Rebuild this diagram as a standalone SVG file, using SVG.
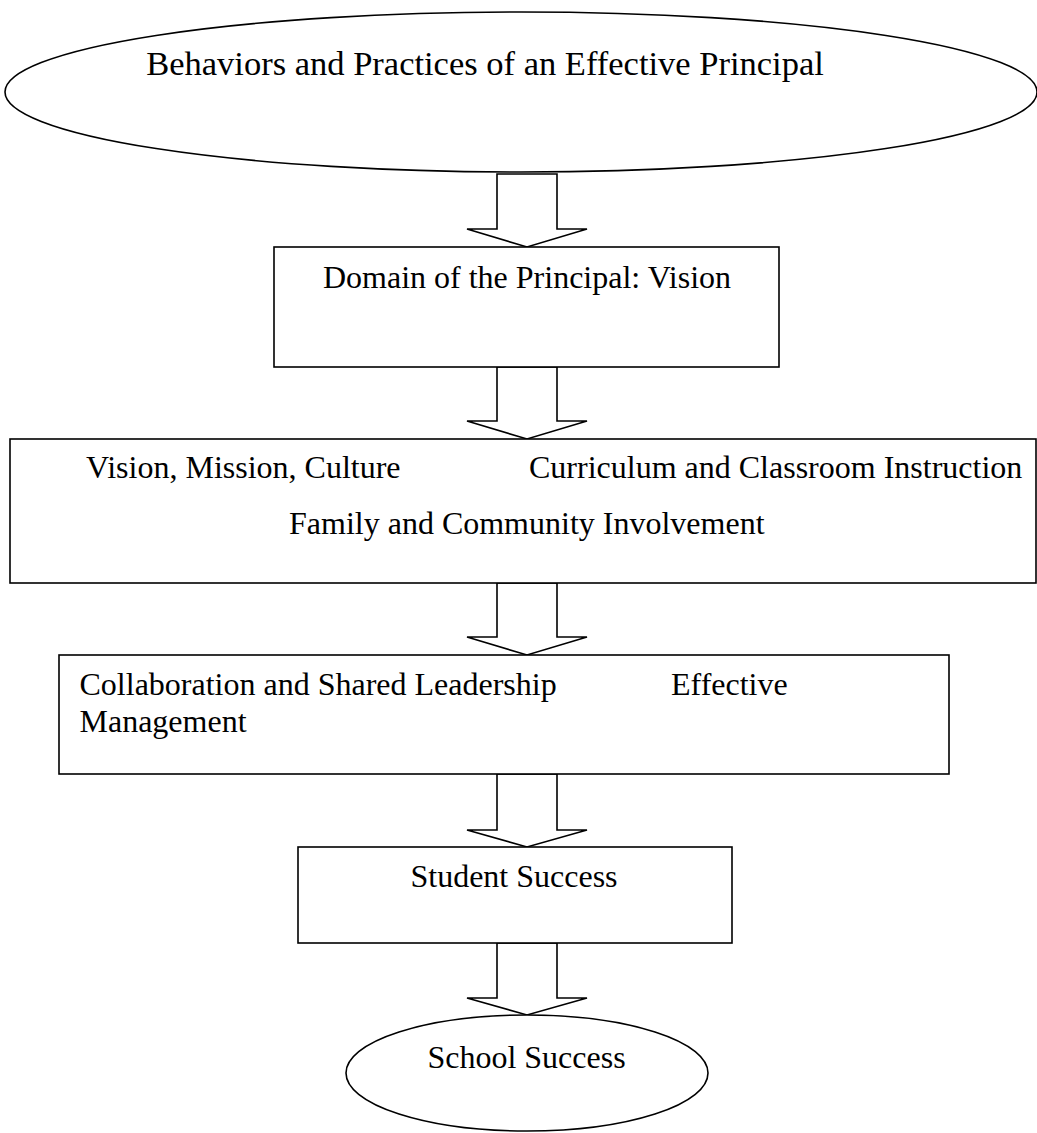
<svg xmlns="http://www.w3.org/2000/svg" width="1037" height="1133" viewBox="0 0 1037 1133">
<style>
  .shape { fill: #fff; stroke: #000; stroke-width: 1.6; }
  .arrow { fill: #fff; stroke: #000; stroke-width: 1.6; stroke-linejoin: miter; }
  .t { font-family: "Liberation Serif", "Times New Roman", serif; font-size: 32px; fill: #000; }
  .c { text-anchor: middle; }
</style>
<rect width="1037" height="1133" fill="#fff"/>
<g id="connectors">
  <polygon class="arrow" points="497,174 497,229 467,229 527,247 587,229 557,229 557,174"/>
  <polygon class="arrow" points="497,367 497,421 467,421 527,439 587,421 557,421 557,367"/>
  <polygon class="arrow" points="497,583 497,637 467,637 527,655 587,637 557,637 557,583"/>
  <polygon class="arrow" points="497,774 497,830 467,830 527,847 587,830 557,830 557,774"/>
  <polygon class="arrow" points="497,943 497,998 467,998 527,1015 587,998 557,998 557,943"/>
</g>
<g id="node-behaviors">
  <ellipse class="shape" cx="521" cy="92" rx="516" ry="80"/>
  <text class="t c" x="485" y="75" style="font-size:34.5px">Behaviors and Practices of an Effective Principal</text>
</g>
<g id="node-domain">
  <rect class="shape" x="274" y="247" width="505" height="120"/>
  <text class="t c" x="527" y="288">Domain of the Principal: Vision</text>
</g>
<g id="node-vision">
  <rect class="shape" x="10" y="439" width="1026" height="144"/>
  <text class="t" x="86" y="478">Vision, Mission, Culture</text>
  <text class="t" x="529" y="478">Curriculum and Classroom Instruction</text>
  <text class="t" x="289" y="534">Family and Community Involvement</text>
</g>
<g id="node-collab">
  <rect class="shape" x="59" y="655" width="890" height="119"/>
  <text class="t" x="79.5" y="695">Collaboration and Shared Leadership</text>
  <text class="t" x="671" y="695">Effective</text>
  <text class="t" x="79.5" y="732">Management</text>
</g>
<g id="node-student">
  <rect class="shape" x="298" y="847" width="434" height="96"/>
  <text class="t c" x="514" y="887">Student Success</text>
</g>
<g id="node-school">
  <ellipse class="shape" cx="527" cy="1073" rx="181" ry="58"/>
  <text class="t c" x="526.5" y="1068">School Success</text>
</g>
</svg>
